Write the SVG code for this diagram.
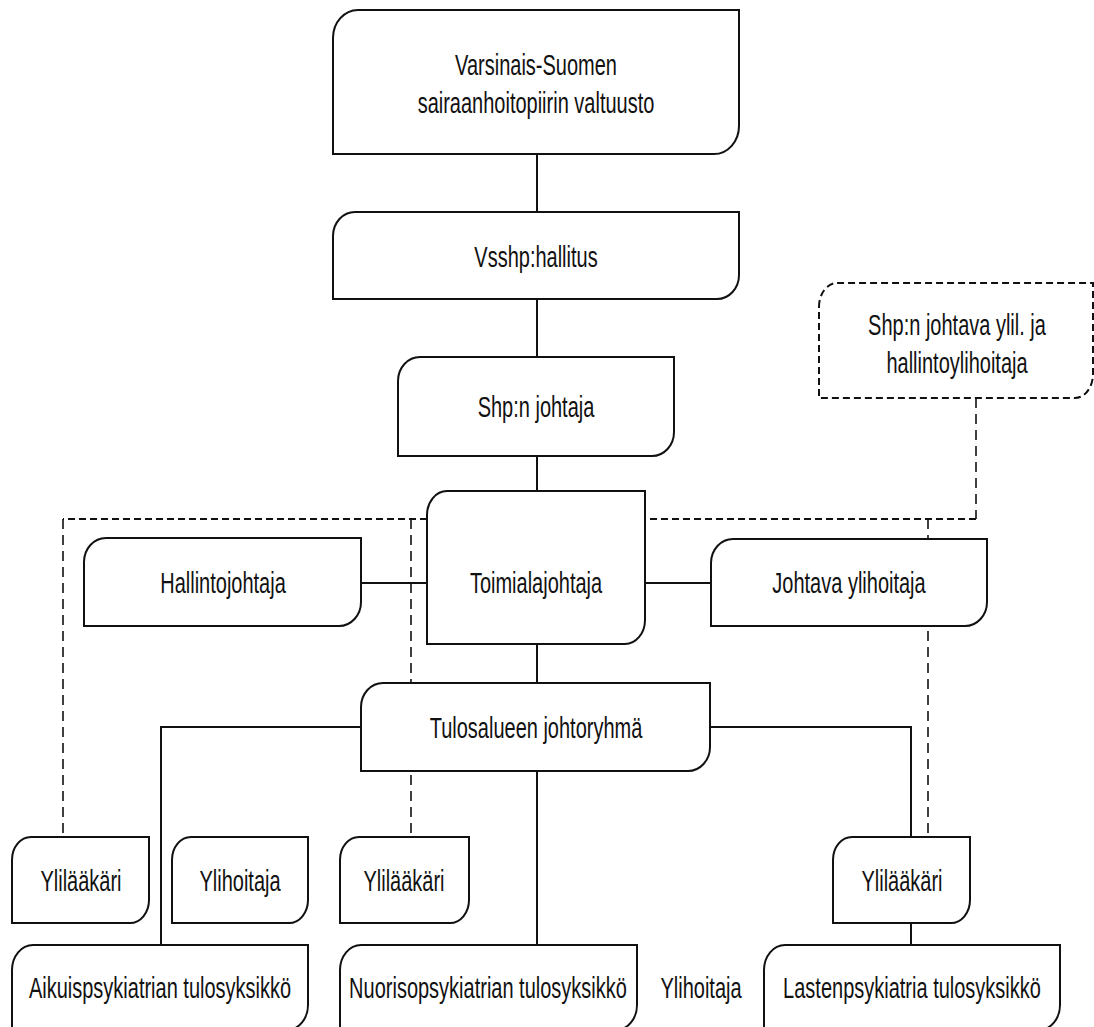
<svg xmlns="http://www.w3.org/2000/svg" width="1094" height="1027" viewBox="0 0 1094 1027">
<style>
.box{fill:#fff;stroke:#111;stroke-width:2}
.dbox{fill:#fff;stroke:#111;stroke-width:2;stroke-dasharray:7 4}
.ln{fill:none;stroke:#111;stroke-width:2}
.dh{fill:none;stroke:#111;stroke-width:2;stroke-dasharray:7 4}
.dv{fill:none;stroke:#111;stroke-width:1.6;stroke-dasharray:10 6}
text{font-family:"Liberation Sans",Arial,sans-serif;font-size:20px;fill:#111;text-anchor:middle}
</style>
<rect width="1094" height="1027" fill="#fff"/>
<g id="connectors">
<path class="ln" d="M537,154 V212 M537,299 V357 M537,456 V491 M537,644 V683 M537,771 V945"/>
<path class="ln" d="M361,583 H427 M645,583 H711"/>
<path class="ln" d="M361,727 H161 V945"/>
<path class="ln" d="M710,727 H911 V837 M911,923 V945"/>
<path class="dh" d="M427,519 H63"/>
<path class="dv" d="M63,519 V837"/>
<path class="dv" d="M411,519 V837"/>
<path class="dv" d="M976,398 V519"/>
<path class="dh" d="M976,519 H645"/>
<path class="dv" d="M928,519 V837"/>
</g>
<g id="valtuusto">
<path class="box" d="M333,38 A25,28 0 0 1 358,10 H739 V126 A25,28 0 0 1 714,154 H333 Z"/>
<text transform="translate(536,75) scale(1,1.5)">Varsinais-Suomen</text>
<text transform="translate(536,113) scale(1,1.5)">sairaanhoitopiirin valtuusto</text>
</g>
<g id="hallitus">
<path class="box" d="M333,236 A22,24 0 0 1 355,212 H739 V275 A22,24 0 0 1 717,299 H333 Z"/>
<text transform="translate(536,267) scale(1,1.5)">Vsshp:hallitus</text>
</g>
<g id="shp-johtaja">
<path class="box" d="M398,381 A22,24 0 0 1 420,357 H674 V432 A22,24 0 0 1 652,456 H398 Z"/>
<text transform="translate(536,417) scale(1,1.5)">Shp:n johtaja</text>
</g>
<g id="johtava-ylil">
<path class="dbox" d="M819,307 A18,24 0 0 1 837,283 H1093 V374 A18,24 0 0 1 1075,398 H819 Z"/>
<text transform="translate(957,335) scale(1,1.5)">Shp:n johtava ylil. ja</text>
<text transform="translate(957,373) scale(1,1.5)">hallintoylihoitaja</text>
</g>
<g id="toimialajohtaja">
<path class="box" d="M427,515 A20,24 0 0 1 447,491 H645 V620 A20,24 0 0 1 625,644 H427 Z"/>
<text transform="translate(536,593) scale(1,1.5)">Toimialajohtaja</text>
</g>
<g id="hallintojohtaja">
<path class="box" d="M84,562 A22,24 0 0 1 106,538 H361 V602 A22,24 0 0 1 339,626 H84 Z"/>
<text transform="translate(223,593) scale(1,1.5)">Hallintojohtaja</text>
</g>
<g id="johtava-ylihoitaja">
<path class="box" d="M711,563 A22,24 0 0 1 733,539 H987 V602 A22,24 0 0 1 965,626 H711 Z"/>
<text transform="translate(849,593) scale(1,1.5)">Johtava ylihoitaja</text>
</g>
<g id="johtoryhma">
<path class="box" d="M361,707 A22,24 0 0 1 383,683 H710 V747 A22,24 0 0 1 688,771 H361 Z"/>
<text transform="translate(536,738) scale(1,1.5)">Tulosalueen johtoryhmä</text>
</g>
<g id="ylilaakari-1">
<path class="box" d="M12,860 A19,23 0 0 1 31,837 H149 V900 A19,23 0 0 1 130,923 H12 Z"/>
<text transform="translate(81,891) scale(1,1.5)">Ylilääkäri</text>
</g>
<g id="ylihoitaja-1">
<path class="box" d="M172,860 A19,23 0 0 1 191,837 H308 V900 A19,23 0 0 1 289,923 H172 Z"/>
<text transform="translate(240,891) scale(1,1.5)">Ylihoitaja</text>
</g>
<g id="ylilaakari-2">
<path class="box" d="M340,860 A19,23 0 0 1 359,837 H469 V900 A19,23 0 0 1 450,923 H340 Z"/>
<text transform="translate(404,891) scale(1,1.5)">Ylilääkäri</text>
</g>
<g id="ylilaakari-3">
<path class="box" d="M833,860 A19,23 0 0 1 852,837 H970 V900 A19,23 0 0 1 951,923 H833 Z"/>
<text transform="translate(902,891) scale(1,1.5)">Ylilääkäri</text>
</g>
<g id="aikuis">
<path class="box" d="M12,970 A21,25 0 0 1 33,945 H308 V1005 A21,25 0 0 1 287,1030 H12 Z"/>
<text transform="translate(160,998) scale(1,1.5)">Aikuispsykiatrian tulosyksikkö</text>
</g>
<g id="nuoriso">
<path class="box" d="M340,970 A21,25 0 0 1 361,945 H637 V1005 A21,25 0 0 1 616,1030 H340 Z"/>
<text transform="translate(488,998) scale(1,1.5)">Nuorisopsykiatrian tulosyksikkö</text>
</g>
<g id="ylihoitaja-2">
<text transform="translate(701,998) scale(1,1.5)">Ylihoitaja</text>
</g>
<g id="lasten">
<path class="box" d="M764,970 A21,25 0 0 1 785,945 H1060 V1005 A21,25 0 0 1 1039,1030 H764 Z"/>
<text transform="translate(912,998) scale(1,1.5)">Lastenpsykiatria tulosyksikkö</text>
</g>
</svg>
